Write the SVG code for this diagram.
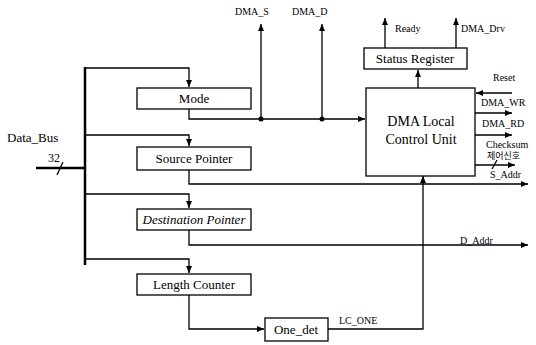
<svg xmlns="http://www.w3.org/2000/svg" width="536" height="345" viewBox="0 0 536 345">
<style>
.box{fill:#fff;stroke:#000;stroke-width:1.3}
.ln{fill:none;stroke:#000;stroke-width:1.3}
.t{text-anchor:middle}
</style>
<defs>
<marker id="ah" markerWidth="8" markerHeight="8" refX="7" refY="4" orient="auto" markerUnits="userSpaceOnUse">
<path d="M0,1 L7,4 L0,7 Z" fill="#000"/>
</marker>
</defs>
<rect width="536" height="345" fill="#fff"/>
<g id="connectors">
<line x1="36" y1="168" x2="85" y2="168" stroke="#000" stroke-width="2.5"/>
<line x1="57" y1="175" x2="63" y2="162" class="ln"/>
<line x1="85" y1="67" x2="85" y2="265" stroke="#000" stroke-width="2.5"/>
<path class="ln" d="M85,68 H189 V87" marker-end="url(#ah)"/>
<path class="ln" d="M85,135 H189 V146" marker-end="url(#ah)"/>
<path class="ln" d="M85,194 H189 V208" marker-end="url(#ah)"/>
<path class="ln" d="M85,259 H189 V273" marker-end="url(#ah)"/>
<path class="ln" d="M189,109 V119 H365" marker-end="url(#ah)"/>
<circle cx="261" cy="119" r="2.5"/>
<circle cx="322" cy="119" r="2.5"/>
<path class="ln" d="M261,119 V24" marker-end="url(#ah)"/>
<path class="ln" d="M322,119 V24" marker-end="url(#ah)"/>
<path class="ln" d="M189,170 V184 H528" marker-end="url(#ah)"/>
<path class="ln" d="M189,230 V245 H528" marker-end="url(#ah)"/>
<path class="ln" d="M189,295 V329 H264" marker-end="url(#ah)"/>
<path class="ln" d="M328,329 H423 V176" marker-end="url(#ah)"/>
<path class="ln" d="M418,88 V70" marker-end="url(#ah)"/>
<path class="ln" d="M385,48 V18" marker-end="url(#ah)"/>
<path class="ln" d="M456,48 V18" marker-end="url(#ah)"/>
<path class="ln" d="M512,93 H476" marker-end="url(#ah)"/>
<path class="ln" d="M475,113 H512" marker-end="url(#ah)"/>
<path class="ln" d="M475,135 H512" marker-end="url(#ah)"/>
<path class="ln" d="M475,165 H515" marker-end="url(#ah)"/>
<line x1="492" y1="169" x2="497" y2="160" class="ln"/>
</g>
<g id="labels" font-family="Liberation Serif, Times New Roman, serif" font-size="10">
<text x="7" y="142" font-size="13">Data_Bus</text>
<text x="48" y="162" font-size="12">32</text>
<text x="235" y="15">DMA_S</text>
<text x="292" y="15">DMA_D</text>
<text x="395" y="32">Ready</text>
<text x="461" y="32">DMA_Drv</text>
<text x="493" y="81">Reset</text>
<text x="481" y="106">DMA_WR</text>
<text x="482" y="127">DMA_RD</text>
<text x="486" y="148">Checksum</text>
<text x="487" y="159" font-size="9" font-family="Liberation Serif, Noto Sans CJK KR, serif">제어신호</text>
<text x="490" y="178">S_Addr</text>
<text x="460" y="244">D_Addr</text>
<text x="339" y="324">LC_ONE</text>
</g>
<g font-family="Liberation Serif, Times New Roman, serif" font-size="13">
<g id="mode"><rect class="box" x="137" y="88" width="114" height="21"/><text class="t" x="194" y="103">Mode</text></g>
<g id="source"><rect class="box" x="137" y="147" width="114" height="23"/><text class="t" x="194" y="163">Source Pointer</text></g>
<g id="dest"><rect class="box" x="137" y="209" width="114" height="21"/><text class="t" x="194" y="224" font-style="italic">Destination Pointer</text></g>
<g id="length"><rect class="box" x="137" y="274" width="114" height="21"/><text class="t" x="194" y="289">Length Counter</text></g>
<g id="onedet"><rect class="box" x="265" y="318" width="63" height="23"/><text class="t" x="296" y="334">One_det</text></g>
<g id="status"><rect class="box" x="364" y="48" width="103" height="21"/><text class="t" x="415" y="63">Status Register</text></g>
<g id="dma"><rect class="box" x="366" y="88" width="109" height="88"/><text class="t" x="421" y="126" font-size="14">DMA Local</text><text class="t" x="421" y="144" font-size="14">Control Unit</text></g>
</g>
</svg>
